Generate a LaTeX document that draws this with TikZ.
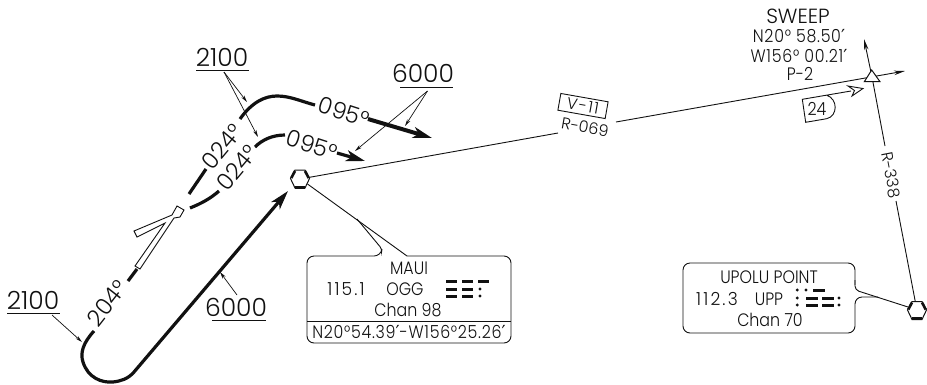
\documentclass[tikz,border=0pt]{standalone}
\usepackage{fontspec}
\setmainfont{Poppins Light}[FakeStretch=0.88]
\newfontfamily\widefont{Poppins Light}
\newfontfamily\widespaced{Poppins Light}[LetterSpace=8]
\newfontfamily\spacedfont{Poppins Light}[FakeStretch=0.88,LetterSpace=4]
\newfontfamily\numfont{Poppins Light}[FakeStretch=0.95,LetterSpace=12]
\newfontfamily\primefont{DejaVu Sans}
\newcommand{\pr}{{\primefont\fontsize{18}{18}\selectfont ′}}
\usetikzlibrary{arrows.meta}
\definecolor{ink}{HTML}{111111}
\tikzset{
 thinline/.style={draw=ink,line width=0.9pt},
 track/.style={draw=ink,line width=3.2pt},
 heavytrack/.style={draw=ink,line width=4pt},
 lead/.style={draw=ink,line width=0.7pt,-{Stealth[length=7pt,width=3.5pt]}},
 txt/.style={text=ink,inner sep=0pt,font=\fontsize{18}{18}\selectfont},
 rottxt/.style={text=ink,inner sep=0pt,font=\widefont\fontsize{16}{16}\selectfont},
 big/.style={text=ink,inner sep=0pt,font=\widefont\fontsize{25}{25}\selectfont},
 rotbig/.style={text=ink,inner sep=0pt,font=\widefont\fontsize{23}{23}\selectfont},
 rulew/.style={draw=ink,line width=1pt},
 morse/.style={draw=ink,line width=3pt},
 bigarrow/.style={-{Stealth[length=19pt,width=11pt,inset=5pt]}},
 smallarrow/.style={-{Stealth[length=11pt,width=4.5pt]}},
}
\newcommand{\vorhex}[2]{%
 \begin{scope}[shift={(#2)}]
  \draw[ink,line width=1pt,fill=white] (-9.5,-0.5)--(-5,-9)--(5,-9)--(9.5,-0.5)--(5,9)--(-5,9)--cycle;
  \draw[ink,line width=3pt] (-5,8)--(5,8);
  \draw[ink,line width=2.6pt] (-8.7,-1)--(-5,-8);
  \draw[ink,line width=2.6pt] (8.7,-1)--(5,-8);
 \end{scope}}
\begin{document}
\begin{tikzpicture}[x=1pt,y=-1pt]
\useasboundingbox (0,0) rectangle (927,384);
\coordinate (maui) at (300,179);
\coordinate (upolu) at (917,310.5);
\coordinate (sw) at (872,77);
% bearing lines
\node[rottxt,rotate=-10] (r069) at (585,127) {R-069};
\node[rottxt,rotate=-79] (r338) at (891,175) {R-338};
\coordinate (rA) at (558,133);
\coordinate (rB) at (616,122);
\coordinate (rE) at (905,71);
\coordinate (upT) at (864,39);
\coordinate (rS) at (885,146);
\coordinate (rT) at (896,201);
\draw[thinline] (maui) -- (rA);
\draw[thinline,smallarrow] (rB) -- (rE);
\draw[thinline,smallarrow] (sw) -- (upT);
\draw[thinline] (sw) -- (rS);
\draw[thinline] (rT) -- (upolu);
% waypoint
\draw[ink,line width=1pt,fill=white] (871.7,70)--(864.3,81.7)--(880,81.7)--cycle;
\node[txt,font=\widefont\fontsize{20.5}{20.5}\selectfont] (sweep) at (798,16) {SWEEP};
\node[txt,font=\spacedfont\fontsize{18}{18}\selectfont] (swa) at (799,36) {N20° 58.50\pr};
\node[txt,font=\spacedfont\fontsize{18}{18}\selectfont] (swb) at (799,56) {W156° 00.21\pr};
\node[txt] (swc) at (800,74) {P-2};
% V-11 box
\node[rotate=-10,draw=ink,line width=0.9pt,minimum width=48pt,minimum height=17pt,inner sep=0pt,text=ink,font=\widespaced\fontsize{16}{16}\selectfont] (v11) at (583,106) {V-11};
% 24 box
\draw[ink,line width=0.9pt] (851,91)--(802.3,99.3)--(805.7,122.3)--(826.7,118.7) .. controls (838,116) and (838,99) .. (826.7,95.2);
\draw[ink,line width=0.9pt,fill=white] (848,86)--(863,88.5)--(852,96)--(854.5,90.5)--cycle;
\node[txt] (n24) at (817,109) {24};
% VOR symbols
\vorhex{maui}{maui}
\vorhex{upolu}{upolu}
% Maui box
\draw[ink,line width=0.9pt,fill=white,rounded corners=7pt] (407,256)--(511,256)--(511,343)--(307,343)--(307,256)--(381,256) [rounded corners=3pt]--(382,249)--(357,219);
\draw[ink,line width=0.9pt] (307.5,184)--(407,256);
\draw[ink,line width=1pt] (307,321)--(511,321);
\node[txt] (m1) at (409,268) {MAUI};
\node[txt,font=\numfont\fontsize{18}{18}\selectfont] (m2) at (346,289) {115.1};
\node[txt] (m3) at (405,289) {OGG};
\node[txt] (m4) at (408,310) {Chan 98};
\node[txt,font=\spacedfont\fontsize{18}{18}\selectfont] (m5) at (409,332) {N20°54.39\pr-W156°25.26\pr};
\draw[morse] (446,281.8)--(457,281.8) (462,281.8)--(473,281.8) (478,281.8)--(489,281.8);
\draw[morse] (446,289)--(457,289) (462,289)--(473,289);
\draw[morse] (446,296)--(457,296) (462,296)--(473,296);
\fill[ink] (480,289) circle (1.6) (480,296) circle (1.6);
% Upolu box
\draw[ink,line width=0.9pt,fill=white,rounded corners=7pt] (855,285)--(855,263)--(683,263)--(683,333)--(855,333)--(855,297)--(878,297);
\draw[ink,line width=0.9pt,rounded corners=4pt] (855,280)--(855,290)--(908,307);
\node[txt] (u1) at (769,277) {UPOLU POINT};
\node[txt,font=\numfont\fontsize{18}{18}\selectfont] (u2) at (717,299) {112.3};
\node[txt] (u3) at (769,299) {UPP};
\node[txt] (u4) at (770,320) {Chan 70};
\draw[morse] (813,290)--(825,290) (806,298)--(818,298) (822,298)--(834,298) (806,305)--(818,305) (822,305)--(834,305);
\fill[ink] (797.3,290) circle (1.6) (806,290) circle (1.6) (797.3,298) circle (1.6) (797.3,305) circle (1.6) (839,298) circle (1.6) (839,305) circle (1.6);
% Y symbol
\draw[ink,line width=0.9pt,fill=white] (177,206)--(184,210)--(180,217)--(174,218)--(140,269)--(135,266)--(165,223)--(137,237)--(134,231)--(172,215)--cycle;
% tracks
\draw[track] (128,281)--(137,269);
\node[rotbig,rotate=52] (t204) at (107,303) {204°};
\draw[track,bigarrow,line cap=butt] (94,331) .. controls (83,343) and (80,353) .. (83,362) .. controls (88,378) and (102,383) .. (113,382) .. controls (121,381) and (128,379) .. (134,372) -- (288,191);
\draw[track] (240,119) .. controls (252,102) and (265,96) .. (277,96) .. controls (290,96) and (300,101) .. (315,105);
\draw[heavytrack,bigarrow] (368,119)--(432,138);
\draw[track] (255,147) .. controls (262,140) and (272,135) .. (285,135);
\draw[track,bigarrow] (337,153)--(365,161);
\draw[track] (189,194)--(206,169);
\draw[track] (190,208) .. controls (200,204) and (210,199) .. (219,191);
\node[rotbig,rotate=50] (a1) at (222,147) {024°};
\node[rotbig,rotate=50] (a2) at (237,168) {024°};
\node[rotbig,rotate=-18] (b1) at (344,112) {095°};
\node[rotbig,rotate=-18] (b2) at (312,145) {095°};
% altitudes
\node[big] (h1) at (222,57) {2100};
\draw[rulew] (196,70)--(249,70);
\node[big] (h2) at (423,73) {6000};
\draw[rulew] (400,87)--(453,87);
\node[big] (h3) at (33,300) {2100};
\draw[rulew] (7,313)--(60,313);
\node[big] (h4) at (236,307) {6000};
\draw[rulew] (212,320)--(266,320);
\coordinate (l1) at (224,72);
\coordinate (l2) at (427.5,91);
\coordinate (l3) at (52,315);
\coordinate (l4) at (237,295);
\draw[lead] (l1)--(247,102);
\draw[lead] (l1)--(258,137);
\draw[lead] (l2)--(405,126);
\draw[lead] (l2)--(355,151);
\draw[lead] (l3)--(82,342);
\draw[lead] (l4)--(220,272);
\end{tikzpicture}
\end{document}
